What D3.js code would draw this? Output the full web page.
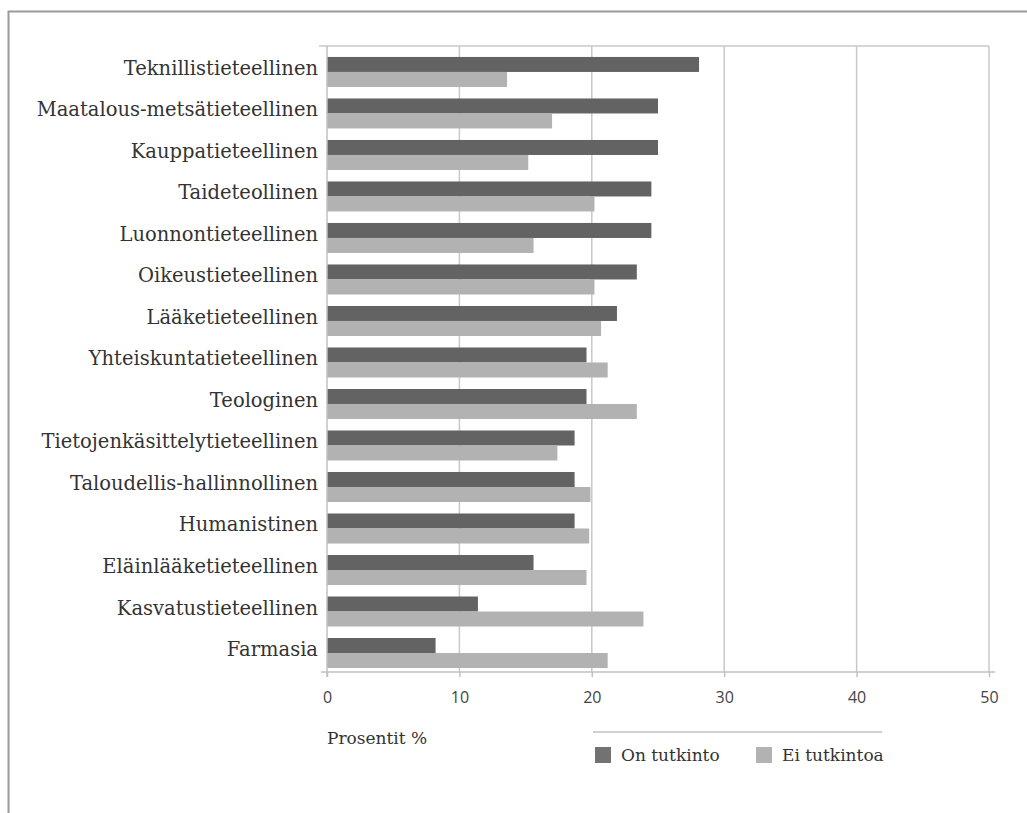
<!DOCTYPE html>
<html>
<head>
<meta charset="utf-8">
<script src="https://cdn.jsdelivr.net/npm/d3@7"></script>
<style>
  html, body { margin: 0; padding: 0; background: #fff; }
  svg { display: block; }
</style>
</head>
<body>
<svg id="chart" width="1027" height="813"></svg>
<script>
// Koulutusalat (ylhäältä alas)
const categories = [
  "Teknillistieteellinen",
  "Maatalous-metsätieteellinen",
  "Kauppatieteellinen",
  "Taideteollinen",
  "Luonnontieteellinen",
  "Oikeustieteellinen",
  "Lääketieteellinen",
  "Yhteiskuntatieteellinen",
  "Teologinen",
  "Tietojenkäsittelytieteellinen",
  "Taloudellis-hallinnollinen",
  "Humanistinen",
  "Eläinlääketieteellinen",
  "Kasvatustieteellinen",
  "Farmasia"
];

// Osuudet prosentteina
const onTutkinto  = [28.1, 25.0, 25.0, 24.5, 24.5, 23.4, 21.9, 19.6, 19.6, 18.7, 18.7, 18.7, 15.6, 11.4, 8.2];
const eiTutkintoa = [13.6, 17.0, 15.2, 20.2, 15.6, 20.2, 20.7, 21.2, 23.4, 17.4, 19.9, 19.8, 19.6, 23.9, 21.2];

const seriesNames = ["On tutkinto", "Ei tutkintoa"];
const xTicks = [0, 10, 20, 30, 40, 50];

const colors = ["#636363", "#b2b2b2"];
const swatchColors = ["#727272", "#b2b2b2"];

const svg = d3.select("#chart");

// Ulkokehys
svg.append("path")
  .attr("d", "M8.5,813 V11.5 H1027")
  .attr("fill", "none")
  .attr("stroke", "#9a9a9a")
  .attr("stroke-width", 2);

const plot = { left: 327, right: 989, top: 46, bottom: 672 };

const x = d3.scaleLinear().domain([0, 50]).range([plot.left, plot.right]);

const y = d3.scaleBand()
  .domain(categories)
  .range([plot.top, plot.bottom])
  .paddingInner(0.277)
  .paddingOuter(0.18)
  .align(0.733);

const sub = d3.scaleBand()
  .domain(seriesNames)
  .range([0, y.bandwidth()]);

// Pystysuorat apuviivat
svg.append("g")
  .selectAll("line")
  .data(xTicks.filter(d => d > 0))
  .join("line")
  .attr("x1", d => x(d)).attr("x2", d => x(d))
  .attr("y1", plot.top).attr("y2", plot.bottom)
  .attr("stroke", "#c8c8c8")
  .attr("stroke-width", 1.5);

// Yläreuna
svg.append("line")
  .attr("x1", plot.left - 8).attr("x2", plot.right)
  .attr("y1", plot.top).attr("y2", plot.top)
  .attr("stroke", "#c8c8c8")
  .attr("stroke-width", 1.5);

// Pylväät
const rows = categories.map((c, i) => ({ c, vals: [onTutkinto[i], eiTutkintoa[i]] }));

const groups = svg.append("g")
  .selectAll("g")
  .data(rows)
  .join("g")
  .attr("transform", d => `translate(0,${y(d.c)})`);

groups.selectAll("rect")
  .data(d => d.vals.map((v, k) => ({ v, k })))
  .join("rect")
  .attr("x", x(0))
  .attr("y", d => sub(seriesNames[d.k]))
  .attr("width", d => x(d.v) - x(0))
  .attr("height", sub.bandwidth())
  .attr("fill", d => colors[d.k]);

// Vasen akseliviiva
svg.append("line")
  .attr("x1", plot.left).attr("x2", plot.left)
  .attr("y1", plot.top).attr("y2", plot.bottom + 5)
  .attr("stroke", "#c0c0c0")
  .attr("stroke-width", 1.5);

// X-akseli
const xAxis = d3.axisBottom(x)
  .tickValues(xTicks)
  .tickSize(5)
  .tickSizeOuter(0)
  .tickPadding(15);

const gx = svg.append("g")
  .attr("transform", `translate(0,${plot.bottom})`)
  .call(xAxis);

gx.select(".domain").remove();
gx.append("line")
  .attr("x1", plot.left - 6).attr("x2", plot.right + 6)
  .attr("y1", 0).attr("y2", 0)
  .attr("stroke", "#c0c0c0")
  .attr("stroke-width", 1.5);
gx.selectAll(".tick line").attr("stroke", "#c0c0c0").attr("stroke-width", 1.5);
gx.selectAll(".tick text")
  .attr("fill", "#444")
  .attr("font-family", "Open Sans, sans-serif")
  .attr("font-size", 16);

// Luokkien nimet
svg.append("g")
  .selectAll("text")
  .data(categories)
  .join("text")
  .attr("x", 318)
  .attr("y", d => y(d) + y.bandwidth() / 2 + 3)
  .attr("text-anchor", "end")
  .attr("fill", "#333")
  .attr("font-family", "DejaVu Serif, serif")
  .attr("font-size", 19.5)
  .text(d => d);

// Akselin otsikko
svg.append("text")
  .attr("x", 327)
  .attr("y", 744)
  .attr("fill", "#333")
  .attr("font-family", "DejaVu Serif, serif")
  .attr("font-size", 17)
  .text("Prosentit %");

// Selite
svg.append("line")
  .attr("x1", 593).attr("x2", 882)
  .attr("y1", 732).attr("y2", 732)
  .attr("stroke", "#c0c0c0")
  .attr("stroke-width", 1.5);

const legendX = [595, 756];
const legend = svg.append("g")
  .selectAll("g")
  .data(seriesNames)
  .join("g")
  .attr("transform", (d, i) => `translate(${legendX[i]},747)`);

legend.append("rect")
  .attr("width", 16).attr("height", 16)
  .attr("fill", (d, i) => swatchColors[i]);

legend.append("text")
  .attr("x", 26)
  .attr("y", 14)
  .attr("fill", "#333")
  .attr("font-family", "DejaVu Serif, serif")
  .attr("font-size", 17)
  .text(d => d);
</script>
</body>
</html>
